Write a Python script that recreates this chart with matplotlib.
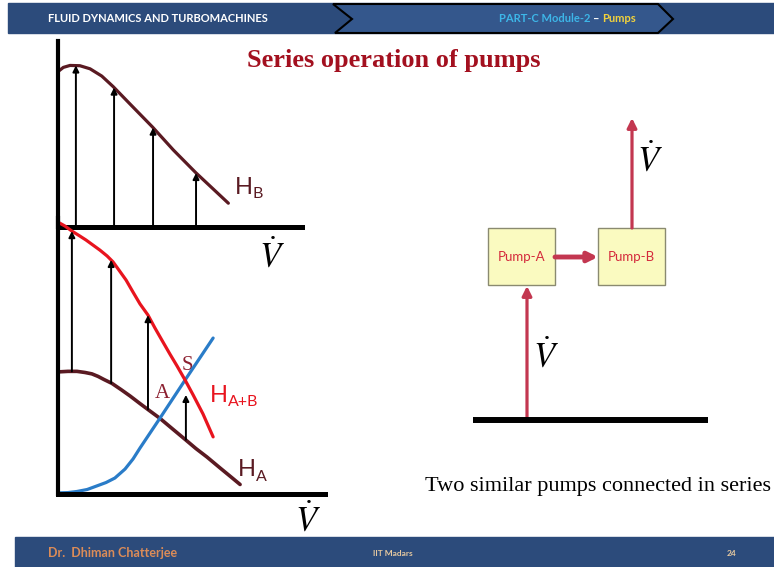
import matplotlib
matplotlib.use('Agg')
import matplotlib.pyplot as plt
from matplotlib.patches import Rectangle, Polygon, FancyArrowPatch

plt.rcParams['mathtext.fontset'] = 'stix'

# pump B characteristic (flow, head) - sketch units
hb_q = [0.0, 0.20, 0.45, 0.82, 1.20, 1.64, 2.07, 2.70, 3.55, 4.32, 5.16, 6.38]
hb_h = [5.55, 5.70, 5.77, 5.76, 5.65, 5.39, 5.01, 4.39, 3.56, 2.75, 1.94, 0.85]
hb_arrow_q = [0.67, 2.10, 3.56, 5.17]
hb_arrow_h = [5.77, 4.98, 3.55, 1.93]

# pump A, combined A+B and system curve
ha_q = [0.0, 0.37, 0.71, 1.01, 1.27, 1.50, 1.72, 2.02, 2.36, 2.70, 3.07, 3.45, 3.82,
        4.27, 4.76, 5.17, 5.58, 6.07, 6.44, 6.82]
ha_h = [4.36, 4.38, 4.38, 4.34, 4.29, 4.20, 4.09, 3.95, 3.73, 3.50, 3.23, 2.96, 2.70,
        2.34, 1.95, 1.62, 1.32, 0.93, 0.64, 0.34]
hab_q = [0.0, 0.26, 0.52, 0.79, 1.05, 1.31, 1.57, 1.84, 2.06, 2.28, 2.55, 2.81, 3.07,
         3.37, 3.63, 3.93, 4.19, 4.46, 4.76, 5.06, 5.43, 5.81]
hab_h = [9.71, 9.57, 9.39, 9.23, 9.07, 8.89, 8.71, 8.50, 8.29, 8.00, 7.64, 7.21, 6.79,
         6.39, 5.93, 5.43, 5.00, 4.57, 4.07, 3.54, 2.86, 2.04]
sys_q = [0.0, 0.37, 0.71, 1.09, 1.46, 1.80, 2.13, 2.51, 2.81, 3.07, 3.82, 4.76, 5.81]
sys_h = [0.04, 0.05, 0.09, 0.16, 0.29, 0.41, 0.57, 0.89, 1.25, 1.64, 2.71, 4.07, 5.57]
add_q = [0.52, 1.99, 3.37, 4.79]
add_from = [4.38, 3.96, 3.02, 1.94]
add_to = [9.39, 8.36, 6.39, 3.54]

maroon = '#5A1A22'
red = '#E8141E'
blue = '#2A7CC8'
bar = '#2C4B7B'
pipe = '#C33750'

fig = plt.figure(figsize=(7.74, 5.67), dpi=100)
bg = fig.add_axes([0, 0, 1, 1])
bg.set_xlim(0, 774)
bg.set_ylim(567, 0)
bg.axis('off')

# header / footer
bg.add_patch(Rectangle((8, 3), 766, 30, color=bar, zorder=1))
bg.add_patch(Polygon([(333, 4), (658, 4), (673, 19), (658, 33), (335, 33), (352, 19)],
                     closed=True, facecolor='#34578C', edgecolor='black', lw=1.5, zorder=2))
bg.text(48, 19, 'FLUID DYNAMICS AND TURBOMACHINES', color='white', fontsize=8,
        fontweight='bold', family='Lato', va='center', ha='left')

rend = fig.canvas.get_renderer()
x = 499
for s, c in [('PART-C Module-2 ', '#3DB6E8'), ('\u2013 ', 'white'), ('Pumps', '#F2D23C')]:
    t = bg.text(x, 19, s, color=c, fontsize=8, fontweight='bold', family='Lato',
                va='center', ha='left', zorder=3)
    ext = t.get_window_extent(rend)
    x = bg.transData.inverted().transform((ext.x1, ext.y0))[0]

bg.add_patch(Rectangle((15, 537), 759, 30, color=bar, zorder=1))
bg.text(48, 553, 'Dr.  Dhiman Chatterjee', color='#DC8C58', fontsize=9, fontweight='bold',
        family='Lato', va='center')
bg.text(373, 553, 'IIT Madars', color='#E6C9A0', fontsize=6, fontweight='bold',
        family='Lato', va='center')
bg.text(727, 553, '24', color='#E6C9A0', fontsize=6, fontweight='bold',
        family='Lato', va='center')

bg.text(394, 60, 'Series operation of pumps', color='#A3101F', fontsize=19,
        fontweight='bold', family='Liberation Serif', ha='center', va='center')

# right-hand sketch
for bx, name in [(488, 'Pump-A'), (598, 'Pump-B')]:
    bg.add_patch(Rectangle((bx, 228), 67, 57, facecolor='#FAFAC0', edgecolor='#8A8A70', lw=1))
    bg.text(bx + 33.5, 257, name, color='#D42A3C', fontsize=9.5, family='Lato',
            ha='center', va='center')

for p0, p1 in [((527, 420), (527, 286)), ((555, 257), (598, 257)), ((632, 228), (632, 118))]:
    lw = 3.5 if p0[1] == p1[1] else 2.3
    bg.add_patch(FancyArrowPatch(p0, p1, arrowstyle='-|>', mutation_scale=14, lw=lw,
                                 color=pipe, shrinkA=0, shrinkB=0))

bg.plot([473, 708], [420, 420], color='black', lw=4.3, solid_capstyle='butt')

vdot = r'$\dot{V}$'
for vx, vy in [(650, 160), (546, 356), (272, 256), (308, 520)]:
    bg.text(vx, vy, vdot, fontsize=25, ha='center', va='center')

bg.text(425, 487, 'Two similar pumps connected in series', fontsize=16,
        family='Liberation Serif', ha='left', va='center')


def sub_label(px, py, sub, color):
    bg.text(px, py, 'H', color=color, fontsize=17, family='Lato', ha='left', va='center')
    bg.text(px + 18, py + 7, sub, color=color, fontsize=11.5, family='Lato',
            ha='left', va='center')


sub_label(235, 187, 'B', maroon)
sub_label(210, 395, 'A+B', red)
sub_label(238, 470, 'A', maroon)
bg.text(187, 365, 'S', color='#8C2030', fontsize=15, family='Liberation Serif',
        ha='center', va='center')
bg.text(162, 393, 'A', color='#8C2030', fontsize=15, family='Liberation Serif',
        ha='center', va='center')

# plots
W, H = 774.0, 567.0
px_q, px_h = 26.7, 28.0


def plot_axes(x0, x1, y_axis, y_top):
    ax = fig.add_axes([x0 / W, (H - y_axis) / H, (x1 - x0) / W, (y_axis - y_top) / H])
    ax.set_facecolor('none')
    ax.set_xlim(0, (x1 - x0) / px_q)
    ax.set_ylim(0, (y_axis - y_top) / px_h)
    for side in ['top', 'right']:
        ax.spines[side].set_visible(False)
    ax.spines['left'].set_linewidth(3.0)
    ax.spines['bottom'].set_linewidth(3.6)
    ax.set_xticks([])
    ax.set_yticks([])
    return ax


def arrow(ax, q, h0, h1):
    ax.annotate('', xy=(q, h1), xytext=(q, h0),
                arrowprops=dict(arrowstyle='-|>', color='black', lw=1.4,
                                mutation_scale=9, shrinkA=0, shrinkB=0))


line_kw = dict(solid_capstyle='round', solid_joinstyle='round', clip_on=False)

ax_top = plot_axes(58, 302, 227, 41)
for q, h in zip(hb_arrow_q, hb_arrow_h):
    arrow(ax_top, q, 0, h)
ax_top.plot(hb_q, hb_h, color=maroon, lw=2.3, **line_kw)

ax_bot = plot_axes(58, 325, 494, 218)
for q, h0, h1 in zip(add_q, add_from, add_to):
    arrow(ax_bot, q, h0, h1)
ax_bot.plot(ha_q, ha_h, color=maroon, lw=2.6, **line_kw)
ax_bot.plot(sys_q, sys_h, color=blue, lw=2.3, **line_kw)
ax_bot.plot(hab_q, hab_h, color=red, lw=2.3, **line_kw)

fig.savefig('out.png', dpi=100, facecolor='white')
